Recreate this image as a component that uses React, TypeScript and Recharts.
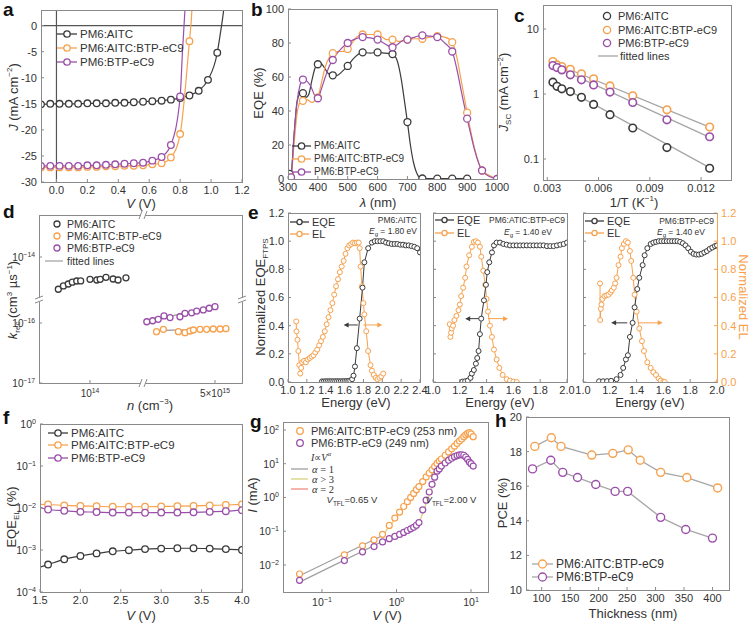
import React from 'react'
import { ComposedChart, Line, Scatter, XAxis, YAxis, ReferenceLine, ReferenceDot } from 'recharts'

const BLACK = '#3b3b3b'
const ORANGE = '#f7a14d'
const PURPLE = '#9a4fa9'
const FIT = '#a6a6a6'
const FRAME = '#8a8a8a'
const TXT = '#333'
const FONT = '"Liberation Sans", Arial, Helvetica, sans-serif'
const SERIF = '"Liberation Serif", "Times New Roman", serif'

// a: J-V
const jvV = [-0.1, -0.04, 0.02, 0.08, 0.14, 0.2, 0.26, 0.32, 0.38, 0.44, 0.5, 0.56, 0.62, 0.68, 0.74, 0.8, 0.86, 0.92, 0.98, 1.04]
const jAitc = [-15.1, -15.0, -15.0, -15.0, -15.0, -14.9, -14.9, -14.9, -14.8, -14.8, -14.7, -14.6, -14.5, -14.4, -14.2, -13.9, -13.4, -12.5, -10.4, -5.2]
const jTern = [-27.2, -27.2, -27.2, -27.2, -27.2, -27.1, -27.1, -27.0, -27.0, -26.9, -26.9, -26.8, -26.6, -26.4, -25.3, -20.8, -3.0]
const jBtp = [-26.9, -26.9, -26.9, -26.9, -26.9, -26.8, -26.8, -26.7, -26.6, -26.5, -26.4, -26.3, -25.9, -25.2, -22.9, -13.6]
const aitcTailV = [1.06, 1.075, 1.09]
const aitcTailJ = [-1.5, 1.5, 5]
const ternTailV = [0.872, 0.88]
const ternTailJ = [1, 5]
const btpTailV = [0.815, 0.835]
const btpTailJ = [-5, 5]

// b: EQE spectra
const bBlackWl = [305, 310, 320, 330, 340, 350, 360, 370, 380, 390, 400, 410, 420, 435, 450, 465, 480, 500, 520, 550, 575, 600, 625, 650, 665, 680, 690, 700, 710, 720, 730, 740, 750, 800, 850, 900]
const bBlackEqe = [0, 2, 25, 45, 50, 50.5, 48, 50, 58, 65, 67.5, 68, 66, 62, 61, 61, 63, 66.5, 71, 74.5, 74, 74.5, 74, 73.5, 70, 58, 46, 33.5, 20, 10, 4, 1, 0.3, 0.2, 0.2, 0.2]
const bBlackMkWl = [305, 350, 400, 450, 500, 550, 600, 650, 700, 750, 800, 850, 900]
const bBlackMk = [3, 50.5, 67.5, 61, 66.5, 74.5, 74.5, 73.5, 33.5, 0.3, 0.2, 0.2, 0.2]
const bTernWl = [305, 310, 320, 330, 340, 350, 365, 380, 390, 400, 410, 425, 440, 450, 465, 480, 500, 515, 530, 550, 575, 600, 615, 630, 650, 670, 690, 700, 725, 750, 775, 800, 825, 850, 865, 880, 900, 910, 925, 950, 975, 1000]
const bTernEqe = [0, 1, 20, 38, 45, 46, 46.5, 45, 46, 48, 55, 66, 72, 74, 75, 75, 76.5, 80, 83.5, 85, 85, 85, 83.5, 82, 82, 81, 81.5, 82, 82.5, 82.5, 83.5, 84, 83.5, 80.5, 72, 58, 39, 30, 18, 5, 2, 0]
const bMkWl = [310, 350, 400, 450, 500, 550, 600, 650, 700, 750, 800, 850, 900, 950, 1000]
const bTernMk = [1, 46, 48, 74, 76.5, 85, 85, 82, 82, 82.5, 84, 80.5, 39, 5, 0]
const bBtpWl = [305, 310, 320, 330, 340, 350, 360, 375, 390, 400, 410, 425, 440, 450, 465, 480, 500, 520, 550, 575, 600, 620, 640, 650, 665, 680, 700, 725, 750, 775, 800, 825, 850, 865, 880, 900, 910, 925, 950, 975, 1000]
const bBtpEqe = [0, 1, 25, 45, 55, 58.5, 58, 55, 49, 47.5, 52, 60, 67, 70, 74, 77, 80, 82, 83.5, 83, 82, 80, 78, 77.5, 79, 81, 82, 83.5, 84.5, 84, 83.5, 80, 75, 65, 52, 35.5, 28, 17, 5, 1.5, 0]
const bBtpMk = [1, 58.5, 47.5, 70, 80, 83.5, 82, 77.5, 82, 84.5, 83.5, 75, 35.5, 5, 0]

// c: Jsc vs 1/T
const cInvT = [0.00333, 0.00357, 0.00385, 0.00435, 0.005, 0.00571, 0.00667, 0.008, 0.01, 0.0125]
const cAitc = [1.52, 1.31, 1.2, 1.09, 0.89, 0.69, 0.48, 0.3, 0.15, 0.072]
const cTern = [3.15, 2.8, 2.65, 2.4, 2.05, 1.71, 1.33, 0.94, 0.57, 0.31]
const cBtp = [2.74, 2.55, 2.35, 1.97, 1.65, 1.38, 1.07, 0.74, 0.4, 0.22]
const cFitX = [0.0033, 0.0126]
const cFitAitc = [1.55, 0.071]
const cFitTern = [3.05, 0.3]
const cFitBtp = [2.75, 0.21]

// d: k_rec vs n (broken axes)
const dAitcN = [4.99e13, 5.58e13, 6.21e13, 6.78e13, 7.47e13, 8.15e13, 1.0e14, 1.16e14, 1.25e14, 1.42e14, 1.66e14, 1.85e14, 2.2e14]
const dAitcK = [2.9e-15, 3.29e-15, 3.55e-15, 3.8e-15, 3.98e-15, 4.0e-15, 4.25e-15, 4.14e-15, 4.25e-15, 4.59e-15, 4.3e-15, 4.14e-15, 4.5e-15]
const dBtpN = [2.28e15, 2.44e15, 2.6e15, 2.78e15, 2.98e15, 3.34e15, 3.54e15, 3.82e15, 4.05e15, 4.37e15, 4.68e15, 5.0e15]
const dBtpK = [1.05e-16, 1.09e-16, 1.15e-16, 1.31e-16, 1.23e-16, 1.27e-16, 1.45e-16, 1.48e-16, 1.58e-16, 1.65e-16, 1.76e-16, 1.87e-16]
const dTernN = [2.55e15, 2.76e15, 3.28e15, 3.54e15, 3.75e15, 3.9e15, 4.21e15, 4.54e15, 4.9e15, 5.3e15, 5.67e15]
const dTernK = [7.16e-17, 7.85e-17, 7.16e-17, 6.89e-17, 7.35e-17, 7.65e-17, 7.85e-17, 7.85e-17, 7.94e-17, 7.94e-17, 8.03e-17]
const dFitTernN = [2.6e15, 5.7e15]
const dFitTernK = [7.5e-17, 8.0e-17]
const dFitBtpN = [2.3e15, 5.0e15]
const dFitBtpK = [1.08e-16, 1.85e-16]

// e: normalized EQE_FTPS and EL
const e1EqeE = [1.36, 1.38, 1.4, 1.42, 1.44, 1.46, 1.48, 1.5, 1.52, 1.54, 1.56, 1.58, 1.6, 1.62, 1.64, 1.66, 1.68, 1.695, 1.71, 1.73, 1.76, 1.79, 1.81, 1.85, 1.89, 1.92, 1.95, 1.98, 2.01, 2.04, 2.07, 2.1, 2.13, 2.16, 2.19, 2.22, 2.25, 2.28, 2.31, 2.34, 2.37, 2.4]
const e1Eqe = [0.004, 0.004, 0.005, 0.005, 0.005, 0.005, 0.005, 0.005, 0.005, 0.005, 0.005, 0.005, 0.006, 0.006, 0.007, 0.01, 0.02, 0.045, 0.11, 0.24, 0.45, 0.67, 0.85, 0.95, 0.99, 1.0, 1.0, 1.0, 1.0, 0.99, 0.985, 0.98, 0.98, 0.98, 0.975, 0.975, 0.97, 0.97, 0.965, 0.96, 0.95, 0.92]
const e1ElE = [1.087, 1.09, 1.1, 1.11, 1.12, 1.13, 1.14, 1.15, 1.17, 1.19, 1.21, 1.23, 1.25, 1.27, 1.29, 1.31, 1.33, 1.35, 1.37, 1.39, 1.41, 1.43, 1.45, 1.47, 1.49, 1.51, 1.53, 1.55, 1.57, 1.59, 1.61, 1.63, 1.65, 1.67, 1.69, 1.71, 1.73, 1.75, 1.76, 1.77, 1.785, 1.8, 1.81, 1.83, 1.85, 1.875, 1.89, 1.91, 1.93, 1.95, 1.97, 1.99, 2.01]
const e1El = [0.43, 0.36, 0.3, 0.22, 0.12, 0.06, 0.1, 0.14, 0.15, 0.14, 0.16, 0.17, 0.18, 0.19, 0.21, 0.23, 0.26, 0.29, 0.32, 0.36, 0.41, 0.46, 0.51, 0.56, 0.62, 0.68, 0.73, 0.78, 0.82, 0.86, 0.91, 0.95, 0.97, 0.98, 0.99, 0.985, 0.99, 0.99, 0.95, 0.82, 0.68, 0.56, 0.48, 0.36, 0.22, 0.12, 0.08, 0.05, 0.03, 0.02, 0.03, 0.04, 0.06]
const e2EqeE = [1.22, 1.24, 1.26, 1.28, 1.29, 1.305, 1.32, 1.33, 1.34, 1.35, 1.36, 1.38, 1.395, 1.405, 1.42, 1.44, 1.455, 1.475, 1.5, 1.525, 1.55, 1.575, 1.6, 1.625, 1.65, 1.675, 1.7, 1.725, 1.75, 1.775, 1.8, 1.825, 1.85, 1.875, 1.9, 1.925, 1.95, 1.975, 2.0]
const e2Eqe = [0.003, 0.005, 0.01, 0.03, 0.06, 0.085, 0.13, 0.17, 0.22, 0.34, 0.45, 0.58, 0.69, 0.78, 0.85, 0.92, 0.97, 0.99, 0.99, 0.98, 0.975, 0.97, 0.97, 0.97, 0.97, 0.97, 0.97, 0.97, 0.97, 0.97, 0.97, 0.97, 0.965, 0.965, 0.965, 0.97, 0.975, 0.98, 0.99]
const e2ElE = [1.125, 1.13, 1.135, 1.14, 1.15, 1.16, 1.175, 1.19, 1.2, 1.21, 1.225, 1.24, 1.25, 1.27, 1.29, 1.305, 1.32, 1.335, 1.35, 1.36, 1.375, 1.39, 1.4, 1.41, 1.425, 1.44, 1.455, 1.475, 1.495, 1.52, 1.55, 1.575, 1.6, 1.625]
const e2El = [0.41, 0.32, 0.35, 0.38, 0.4, 0.44, 0.47, 0.51, 0.55, 0.61, 0.67, 0.74, 0.82, 0.9, 0.96, 0.995, 1.0, 0.99, 0.96, 0.89, 0.79, 0.69, 0.59, 0.5, 0.4, 0.32, 0.23, 0.16, 0.1, 0.05, 0.02, 0.01, 0.003, 0]
const e3EqeE = [1.12, 1.15, 1.18, 1.21, 1.25, 1.28, 1.3, 1.32, 1.335, 1.35, 1.37, 1.385, 1.405, 1.42, 1.445, 1.46, 1.48, 1.505, 1.525, 1.545, 1.565, 1.585, 1.605, 1.625, 1.645, 1.665, 1.685, 1.705, 1.725, 1.745, 1.765, 1.785, 1.805, 1.825, 1.845, 1.865, 1.885, 1.905, 1.925, 1.945, 1.965, 1.985, 2.0]
const e3Eqe = [0.005, 0.005, 0.006, 0.008, 0.02, 0.05, 0.1, 0.16, 0.19, 0.32, 0.42, 0.53, 0.66, 0.74, 0.83, 0.9, 0.95, 0.98, 0.99, 0.995, 1.0, 1.0, 1.0, 1.0, 1.0, 1.0, 1.0, 1.0, 0.995, 0.985, 0.97, 0.95, 0.925, 0.91, 0.905, 0.905, 0.91, 0.92, 0.93, 0.945, 0.955, 0.965, 0.97]
const e3ElE = [1.127, 1.128, 1.133, 1.138, 1.145, 1.16, 1.175, 1.19, 1.205, 1.215, 1.23, 1.24, 1.25, 1.265, 1.28, 1.29, 1.305, 1.32, 1.335, 1.35, 1.36, 1.375, 1.385, 1.4, 1.42, 1.44, 1.455, 1.48, 1.505, 1.525, 1.545, 1.565, 1.58, 1.6, 1.61]
const e3El = [0.7, 0.44, 0.52, 0.55, 0.59, 0.61, 0.615, 0.62, 0.635, 0.65, 0.67, 0.7, 0.74, 0.83, 0.89, 0.95, 0.98, 1.0, 0.99, 0.93, 0.86, 0.74, 0.62, 0.5, 0.38, 0.29, 0.22, 0.14, 0.1, 0.07, 0.05, 0.025, 0.01, 0.003, 0]
// arrows: [black from, black to, orange from, orange to, height]
const e1Arrow = [1.74, 1.59, 1.8, 2.0, 0.405]
const e2Arrow = [1.375, 1.24, 1.41, 1.56, 0.45]
const e3Arrow = [1.33, 1.21, 1.41, 1.595, 0.42]

// f: EQE_EL vs V
const fV = [1.5, 1.6, 1.8, 2.0, 2.2, 2.4, 2.6, 2.8, 3.0, 3.2, 3.4, 3.6, 3.8, 4.0]
const fAitc = [3.9e-4, 4.5e-4, 6.0e-4, 7.2e-4, 8.3e-4, 9.3e-4, 9.9e-4, 1.05e-3, 1.08e-3, 1.1e-3, 1.1e-3, 1.08e-3, 1.05e-3, 1.0e-3]
const fTern = [0.0122, 0.0121, 0.0115, 0.0112, 0.011, 0.0107, 0.0107, 0.0107, 0.0109, 0.011, 0.0112, 0.0115, 0.0118, 0.0122]
const fBtp = [0.0103, 0.0092, 0.0086, 0.0081, 0.008, 0.0078, 0.0078, 0.0077, 0.0078, 0.0078, 0.0079, 0.0081, 0.0084, 0.0089]

// g: SCLC I-V
const gV = [0.05, 0.2, 0.35, 0.5, 0.65, 0.8, 0.95, 1.1, 1.25, 1.4, 1.55, 1.7, 1.85, 2.0, 2.25, 2.5, 2.75, 3.0, 3.25, 3.5, 3.75, 4.0, 4.5, 5.0, 5.5, 6.0, 6.5, 7.0, 7.5, 8.0, 8.5, 9.0, 9.5, 10.0, 10.7]
const gTern = [0.0054, 0.02, 0.037, 0.055, 0.081, 0.148, 0.245, 0.37, 0.54, 0.75, 1.0, 1.32, 1.7, 2.1, 2.96, 4.05, 5.3, 6.6, 8.3, 10.2, 12, 13.8, 17.8, 22.4, 27.5, 33, 40, 47, 54, 63, 71, 79, 83, 76, 63]
const gBtp = [0.0035, 0.0135, 0.0245, 0.035, 0.048, 0.06, 0.07, 0.08, 0.092, 0.105, 0.118, 0.13, 0.15, 0.18, 0.43, 0.83, 1.45, 2.45, 4.0, 6.0, 7.0, 8.5, 10.5, 12.6, 14.5, 16.2, 17.4, 18.2, 18.4, 17.8, 15.8, 13.5, 11.2, 10, 8.5]
const gFit1TernV = [0.05, 0.65]
const gFit1Tern = [0.0048, 0.075]
const gFit3TernV = [0.65, 3.6]
const gFit3Tern = [0.075, 11]
const gFit2TernV = [3.6, 8.6]
const gFit2Tern = [11, 72]
const gFit1BtpV = [0.05, 2.0]
const gFit1Btp = [0.0031, 0.17]
const gFit3BtpV = [2.0, 3.7]
const gFit3Btp = [0.17, 6.8]
const gFit2BtpV = [3.7, 7.0]
const gFit2Btp = [6.8, 18]

// h: PCE vs thickness
const hTernT = [88, 117, 134, 188, 225, 252, 273, 309, 355, 409]
const hTern = [18.3, 18.8, 18.3, 17.8, 17.9, 18.1, 17.5, 16.8, 16.5, 15.9]
const hBtpT = [84, 116, 137, 163, 195, 229, 251, 309, 353, 400]
const hBtp = [17.0, 17.5, 16.8, 16.5, 16.1, 15.7, 15.7, 14.2, 13.5, 13.0]

const pts = (xs: number[], ys: number[]) => xs.map((x, i) => ({ x, y: ys[i] }))

type Frame = { x: number; y: number; w: number; h: number }
const FA: Frame = { x: 41, y: 10, w: 201, h: 172 }
const FB: Frame = { x: 288, y: 9, w: 209, h: 170 }
const FC: Frame = { x: 543, y: 5, w: 188, h: 175 }
const FD: Frame = { x: 39, y: 215, w: 203, h: 168 }
const FE1: Frame = { x: 288, y: 213, w: 132, h: 169 }
const FE2: Frame = { x: 433, y: 213, w: 134, h: 169 }
const FE3: Frame = { x: 583, y: 213, w: 134, h: 169 }
const FF: Frame = { x: 40, y: 424, w: 202, h: 168 }
const FG: Frame = { x: 283, y: 422, w: 205, h: 170 }
const FH: Frame = { x: 526, y: 417, w: 203, h: 173 }

const tickFont = { fontSize: 11, fill: TXT, fontFamily: FONT }
const xAx = { type: 'number' as const, dataKey: 'x', tickSize: -3, tickMargin: 7, axisLine: false, tickLine: { stroke: FRAME }, tick: tickFont, interval: 0 as const, allowDataOverflow: true }
const yAx = { type: 'number' as const, tickSize: -3, tickMargin: 7, axisLine: false, tickLine: { stroke: FRAME }, tick: tickFont, interval: 0 as const, allowDataOverflow: true }

function Plot({ f, l, b, r = 8, t = 6, rightAxis = false, children }: { f: Frame; l: number; b: number; r?: number; t?: number; rightAxis?: boolean; children: React.ReactNode }) {
  return (
    <div style={{ position: 'absolute', left: f.x - l, top: f.y - t }}>
      <ComposedChart width={l + f.w + r} height={t + f.h + b} margin={{ top: t, right: rightAxis ? 0 : r, bottom: 0, left: 0 }}>
        {children}
      </ComposedChart>
    </div>
  )
}

function Box({ f, right = FRAME }: { f: Frame; right?: string }) {
  return (
    <div style={{ position: 'absolute', left: f.x, top: f.y, width: f.w + 1, height: f.h + 1, boxSizing: 'border-box', border: `1px solid ${FRAME}`, borderRightColor: right, pointerEvents: 'none' }} />
  )
}

function Label({ x, y, children, rotate = 0, size = 13, color = TXT, align = 'center', family = FONT }: { x: number; y: number; children: React.ReactNode; rotate?: number; size?: number; color?: string; align?: 'center' | 'right' | 'left'; family?: string }) {
  const tx = align === 'center' ? '-50%' : align === 'right' ? '-100%' : '0'
  return (
    <div style={{ position: 'absolute', left: x, top: y, transform: `translate(${tx},-50%) rotate(${rotate}deg)`, whiteSpace: 'nowrap', fontSize: size, color, lineHeight: 1, fontFamily: family }}>
      {children}
    </div>
  )
}

function Key({ x, y, color, text, w = 20, r = 3.2, line = true, dot = true, lineColor, size = 11, gap = 3 }: { x: number; y: number; color: string; text: React.ReactNode; w?: number; r?: number; line?: boolean; dot?: boolean; lineColor?: string; size?: number; gap?: number }) {
  return (
    <div style={{ position: 'absolute', left: x, top: y - 6, height: 12, display: 'flex', alignItems: 'center', whiteSpace: 'nowrap', fontSize: size, color: TXT, lineHeight: '12px' }}>
      <svg width={w} height={12} style={{ display: 'block', overflow: 'visible' }}>
        {line && <line x1={0} y1={6} x2={w} y2={6} stroke={lineColor ?? color} strokeWidth={1.3} />}
        {dot && <circle cx={w / 2} cy={6} r={r} fill="#fff" stroke={color} strokeWidth={1.3} />}
      </svg>
      <span style={{ marginLeft: gap }}>{text}</span>
    </div>
  )
}

const ring = (color: string, r = 3.3, sw = 1.3) => (p: any) => <circle cx={p.cx} cy={p.cy} r={r} fill="#fff" stroke={color} strokeWidth={sw} />

const powTick = (fmt: (v: number) => [string, string], side: 'left' | 'bottom', size = 11) => (p: any) => {
  const [base, exp] = fmt(p.payload.value)
  const anchor = side === 'left' ? 'end' : 'middle'
  const dy = side === 'bottom' ? 10 : 4
  return (
    <text x={p.x} y={p.y + dy} textAnchor={anchor} fontSize={size} fill={TXT} fontFamily={FONT}>
      {base}
      <tspan fontSize={size * 0.68} dy={-size * 0.42}>{exp}</tspan>
    </text>
  )
}
const pow10 = (v: number): [string, string] => ['10', String(Math.round(Math.log10(v))).replace('-', '\u2212')]

const arrowHead = (color: string, dir: number) => (p: any) => (
  <path d={`M${p.cx},${p.cy} L${p.cx - dir * 5},${p.cy - 2.5} L${p.cx - dir * 5},${p.cy + 2.5} Z`} fill={color} />
)

function Arrows({ a, rightId }: { a: number[]; rightId?: string }) {
  const [b0, b1, o0, o1, h] = a
  return (
    <>
      <ReferenceLine segment={[{ x: b0, y: h }, { x: b1 + 0.02, y: h }]} stroke={BLACK} strokeWidth={1} />
      <ReferenceDot x={b1} y={h} r={0} shape={arrowHead(BLACK, -1)} />
      <ReferenceLine yAxisId={rightId ?? 0} segment={[{ x: o0, y: h }, { x: o1 - 0.02, y: h }]} stroke={ORANGE} strokeWidth={1} />
      <ReferenceDot yAxisId={rightId ?? 0} x={o1} y={h} r={0} shape={arrowHead(ORANGE, 1)} />
    </>
  )
}

const eTicks = [0, 0.2, 0.4, 0.6, 0.8, 1.0, 1.2]
const eLine = (color: string) => ({ stroke: color, strokeWidth: 1, dot: { r: 2.5, fill: '#fff', stroke: color, strokeWidth: 1 }, isAnimationActive: false, type: 'linear' as const })

function PanelLetter({ x, y, c }: { x: number; y: number; c: string }) {
  return <div style={{ position: 'absolute', left: x, top: y - 10, fontSize: 19, fontWeight: 'bold', lineHeight: '20px', color: '#111' }}>{c}</div>
}

export default function App() {
  return (
    <div style={{ position: 'absolute', left: 0, top: 0, width: 750, height: 626, background: '#fff', fontFamily: FONT, overflow: 'hidden', color: TXT }}>
      {/* a */}
      <Plot f={FA} l={41} b={20}>
        <XAxis {...xAx} height={20} domain={[-0.1, 1.2]} ticks={[0, 0.2, 0.4, 0.6, 0.8, 1.0, 1.2]} tickFormatter={(v: number) => v.toFixed(1)} />
        <YAxis {...yAx} width={41} domain={[-30, 3]} ticks={[-30, -25, -20, -15, -10, -5, 0]} />
        <ReferenceLine x={0} stroke="#555" strokeWidth={1.2} />
        <ReferenceLine y={0} stroke="#555" strokeWidth={1.2} />
        <Line data={pts([...jvV, ...aitcTailV], [...jAitc, ...aitcTailJ])} dataKey="y" stroke={BLACK} strokeWidth={1.2} dot={false} type="monotone" isAnimationActive={false} />
        <Line data={pts([...jvV.slice(0, jTern.length), ...ternTailV], [...jTern, ...ternTailJ])} dataKey="y" stroke={ORANGE} strokeWidth={1.2} dot={false} type="monotone" isAnimationActive={false} />
        <Line data={pts([...jvV.slice(0, jBtp.length), ...btpTailV], [...jBtp, ...btpTailJ])} dataKey="y" stroke={PURPLE} strokeWidth={1.2} dot={false} type="monotone" isAnimationActive={false} />
        <Scatter data={pts(jvV, jAitc)} dataKey="y" shape={ring(BLACK)} isAnimationActive={false} />
        <Scatter data={pts(jvV, jTern)} dataKey="y" shape={ring(ORANGE)} isAnimationActive={false} />
        <Scatter data={pts(jvV, jBtp)} dataKey="y" shape={ring(PURPLE)} isAnimationActive={false} />
      </Plot>
      <Box f={FA} />
      <Key x={57} y={34} color={BLACK} text="PM6:AITC" size={11.5} />
      <Key x={57} y={48} color={ORANGE} text="PM6:AITC:BTP-eC9" size={11.5} />
      <Key x={57} y={62} color={PURPLE} text="PM6:BTP-eC9" size={11.5} />
      <Label x={13} y={97} rotate={-90}><i>J</i> (mA cm<sup style={{ fontSize: 8 }}>−2</sup>)</Label>
      <Label x={141} y={203}><i>V</i> (V)</Label>

      {/* b */}
      <Plot f={FB} l={30} b={20} r={16}>
        <XAxis {...xAx} height={20} domain={[300, 1000]} ticks={[300, 400, 500, 600, 700, 800, 900, 1000]} />
        <YAxis {...yAx} width={30} domain={[0, 100]} ticks={[0, 20, 40, 60, 80, 100]} />
        <Line data={pts(bBlackWl, bBlackEqe)} dataKey="y" stroke={BLACK} strokeWidth={1.2} dot={false} type="monotone" isAnimationActive={false} />
        <Line data={pts(bTernWl, bTernEqe)} dataKey="y" stroke={ORANGE} strokeWidth={1.2} dot={false} type="monotone" isAnimationActive={false} />
        <Line data={pts(bBtpWl, bBtpEqe)} dataKey="y" stroke={PURPLE} strokeWidth={1.2} dot={false} type="monotone" isAnimationActive={false} />
        <Scatter data={pts(bBlackMkWl, bBlackMk)} dataKey="y" shape={ring(BLACK, 3.5)} isAnimationActive={false} />
        <Scatter data={pts(bMkWl, bTernMk)} dataKey="y" shape={ring(ORANGE, 3.5)} isAnimationActive={false} />
        <Scatter data={pts(bMkWl, bBtpMk)} dataKey="y" shape={ring(PURPLE, 3.5)} isAnimationActive={false} />
      </Plot>
      <Box f={FB} />
      <Key x={292} y={146} color={BLACK} text="PM6:AITC" w={19} size={10} />
      <Key x={292} y={159} color={ORANGE} text="PM6:AITC:BTP-eC9" w={19} size={10} />
      <Key x={292} y={172} color={PURPLE} text="PM6:BTP-eC9" w={19} size={10} />
      <Label x={258} y={93} rotate={-90}>EQE (%)</Label>
      <Label x={378} y={202}><i>λ</i> (nm)</Label>

      {/* c */}
      <Plot f={FC} l={30} b={20} r={12}>
        <XAxis {...xAx} height={20} domain={[0.00275, 0.01375]} ticks={[0.003, 0.006, 0.009, 0.012]} tickFormatter={(v: number) => v.toFixed(3)} />
        <YAxis {...yAx} width={30} scale="log" domain={[0.0475, 23.4]} ticks={[0.1, 1, 10]} tickFormatter={(v: number) => String(v)} />
        <Line data={pts(cFitX, cFitAitc)} dataKey="y" stroke={FIT} strokeWidth={1.3} dot={false} isAnimationActive={false} />
        <Line data={pts(cFitX, cFitTern)} dataKey="y" stroke={FIT} strokeWidth={1.3} dot={false} isAnimationActive={false} />
        <Line data={pts(cFitX, cFitBtp)} dataKey="y" stroke={FIT} strokeWidth={1.3} dot={false} isAnimationActive={false} />
        <Scatter data={pts(cInvT, cAitc)} dataKey="y" shape={ring(BLACK, 3.8, 1.6)} isAnimationActive={false} />
        <Scatter data={pts(cInvT, cTern)} dataKey="y" shape={ring(ORANGE, 3.8, 1.6)} isAnimationActive={false} />
        <Scatter data={pts(cInvT, cBtp)} dataKey="y" shape={ring(PURPLE, 3.8, 1.6)} isAnimationActive={false} />
      </Plot>
      <Box f={FC} />
      <Key x={601} y={16} color={BLACK} text="PM6:AITC" w={12} line={false} r={3.6} size={11} gap={5} />
      <Key x={601} y={30} color={ORANGE} text="PM6:AITC:BTP-eC9" w={12} line={false} r={3.6} size={11} gap={5} />
      <Key x={601} y={43} color={PURPLE} text="PM6:BTP-eC9" w={12} line={false} r={3.6} size={11} gap={5} />
      <Key x={598} y={56} color={FIT} text="fitted lines" w={20} dot={false} size={11} gap={2} />
      <Label x={505} y={92} rotate={-90}><i>J</i><sub style={{ fontSize: 8 }}>SC</sub> (mA cm<sup style={{ fontSize: 8 }}>−2</sup>)</Label>
      <Label x={634} y={202}>1/T (K<sup style={{ fontSize: 8 }}>−1</sup>)</Label>

      {/* d: two overlaid scales for the broken axes */}
      <Plot f={FD} l={39} b={20} r={10}>
        <XAxis {...xAx} height={20} scale="log" domain={[Math.pow(10, 13.514), Math.pow(10, 15.448)]} ticks={[1e14]} tick={powTick(pow10, 'bottom', 10)} />
        <YAxis {...yAx} width={39} scale="log" domain={[Math.pow(10, -16.1), Math.pow(10, -13.3)]} ticks={[1e-14]} tick={powTick(pow10, 'left', 10)} />
        <Scatter data={pts(dAitcN, dAitcK)} dataKey="y" shape={ring(BLACK, 3)} isAnimationActive={false} />
      </Plot>
      <Plot f={FD} l={39} b={20} r={10}>
        <XAxis {...xAx} height={20} scale="log" domain={[Math.pow(10, 14.819), Math.pow(10, 15.834)]} ticks={[5e15]} tick={powTick(() => ['5×10', '15'], 'bottom', 10)} />
        <YAxis {...yAx} width={39} scale="log" domain={[1e-17, Math.pow(10, -14.2)]} ticks={[1e-17, 1e-16]} tick={powTick(pow10, 'left', 10)} />
        <Line data={pts(dFitBtpN, dFitBtpK)} dataKey="y" stroke={FIT} strokeWidth={1.3} dot={false} isAnimationActive={false} />
        <Line data={pts(dFitTernN, dFitTernK)} dataKey="y" stroke={FIT} strokeWidth={1.3} dot={false} isAnimationActive={false} />
        <Scatter data={pts(dBtpN, dBtpK)} dataKey="y" shape={ring(PURPLE, 3)} isAnimationActive={false} />
        <Scatter data={pts(dTernN, dTernK)} dataKey="y" shape={ring(ORANGE, 3)} isAnimationActive={false} />
      </Plot>
      <Box f={FD} />
      <svg width={750} height={626} style={{ position: 'absolute', left: 0, top: 0, pointerEvents: 'none' }}>
        {[[143, 215], [143, 383]].map(([cx, cy], i) => (
          <g key={'h' + i} stroke={FRAME} strokeWidth={1}>
            <rect x={cx - 2} y={cy - 2} width={4} height={4} fill="#fff" stroke="none" />
            <line x1={cx - 4} y1={cy + 4} x2={cx - 1} y2={cy - 4} />
            <line x1={cx + 1} y1={cy + 4} x2={cx + 4} y2={cy - 4} />
          </g>
        ))}
        {[[39, 300], [242, 300]].map(([cx, cy], i) => (
          <g key={'v' + i} stroke={FRAME} strokeWidth={1}>
            <rect x={cx - 2} y={cy - 2} width={4} height={4} fill="#fff" stroke="none" />
            <line x1={cx - 4} y1={cy - 1} x2={cx + 4} y2={cy - 4} />
            <line x1={cx - 4} y1={cy + 3} x2={cx + 4} y2={cy} />
          </g>
        ))}
      </svg>
      <Key x={51} y={224} color={BLACK} text="PM6:AITC" w={12} line={false} r={3} size={10.5} gap={4} />
      <Key x={51} y={236} color={ORANGE} text="PM6:AITC:BTP-eC9" w={12} line={false} r={3} size={10.5} gap={4} />
      <Key x={51} y={248} color={PURPLE} text="PM6:BTP-eC9" w={12} line={false} r={3} size={10.5} gap={4} />
      <Key x={45} y={261} color={FIT} text="fitted lines" w={18} dot={false} size={10.5} gap={4} />
      <Label x={14} y={300} rotate={-90}><i>k</i><sub style={{ fontSize: 8 }}>rec</sub> (cm<sup style={{ fontSize: 8 }}>3</sup> µs<sup style={{ fontSize: 8 }}>−1</sup>)</Label>
      <Label x={150} y={405}><i>n</i> (cm<sup style={{ fontSize: 8 }}>−3</sup>)</Label>

      {/* e1 */}
      <Plot f={FE1} l={26} b={20} r={10}>
        <XAxis {...xAx} height={20} domain={[1.0, 2.4]} ticks={[1.0, 1.2, 1.4, 1.6, 1.8, 2.0, 2.2, 2.4]} tickFormatter={(v: number) => v.toFixed(1)} />
        <YAxis {...yAx} width={26} domain={[0, 1.2]} ticks={eTicks} tickFormatter={(v: number) => v.toFixed(1)} />
        <Arrows a={e1Arrow} />
        <Line data={pts(e1ElE, e1El)} dataKey="y" {...eLine(ORANGE)} />
        <Line data={pts(e1EqeE, e1Eqe)} dataKey="y" {...eLine(BLACK)} />
      </Plot>
      <Box f={FE1} />
      {/* e2 */}
      <Plot f={FE2} l={12} b={20} r={10}>
        <XAxis {...xAx} height={20} domain={[1.0, 2.0]} ticks={[1.0, 1.2, 1.4, 1.6, 1.8, 2.0]} tickFormatter={(v: number) => v.toFixed(1)} />
        <YAxis {...yAx} width={12} domain={[0, 1.2]} ticks={eTicks} tickFormatter={() => ''} />
        <Arrows a={e2Arrow} />
        <Line data={pts(e2ElE, e2El)} dataKey="y" {...eLine(ORANGE)} />
        <Line data={pts(e2EqeE, e2Eqe)} dataKey="y" {...eLine(BLACK)} />
      </Plot>
      <Box f={FE2} />
      {/* e3 */}
      <Plot f={FE3} l={12} b={20} r={28} rightAxis>
        <XAxis {...xAx} height={20} domain={[1.0, 2.0]} ticks={[1.0, 1.2, 1.4, 1.6, 1.8, 2.0]} tickFormatter={(v: number) => v.toFixed(1)} />
        <YAxis {...yAx} width={12} domain={[0, 1.2]} ticks={eTicks} tickFormatter={() => ''} />
        <YAxis {...yAx} yAxisId="r" orientation="right" width={28} domain={[0, 1.2]} ticks={eTicks} tickFormatter={(v: number) => v.toFixed(1)} tick={{ ...tickFont, fill: ORANGE }} tickLine={{ stroke: ORANGE }} />
        <Arrows a={e3Arrow} rightId="r" />
        <Line yAxisId="r" data={pts(e3ElE, e3El)} dataKey="y" {...eLine(ORANGE)} />
        <Line data={pts(e3EqeE, e3Eqe)} dataKey="y" {...eLine(BLACK)} />
      </Plot>
      <Box f={FE3} right={ORANGE} />
      <Key x={290} y={222} color={BLACK} text="EQE" w={19} r={2.6} size={11} />
      <Key x={290} y={234} color={ORANGE} text="EL" w={19} r={2.6} size={11} />
      <Key x={435} y={220} color={BLACK} text="EQE" w={19} r={2.6} size={11} />
      <Key x={435} y={233} color={ORANGE} text="EL" w={19} r={2.6} size={11} />
      <Key x={585} y={221} color={BLACK} text="EQE" w={19} r={2.6} size={11} />
      <Key x={585} y={233} color={ORANGE} text="EL" w={19} r={2.6} size={11} />
      <Label x={417} y={220} align="right" size={8.5}>PM6:AITC</Label>
      <Label x={417} y={232} align="right" size={8.5}><i>E</i><sub style={{ fontSize: 6 }}>g</sub> = 1.80 eV</Label>
      <Label x={565} y={220} align="right" size={8.5}>PM6:ATIC:BTP-eC9</Label>
      <Label x={552} y={233} align="right" size={8.5}><i>E</i><sub style={{ fontSize: 6 }}>g</sub> = 1.40 eV</Label>
      <Label x={714} y={221} align="right" size={8.5}>PM6:BTP-eC9</Label>
      <Label x={705} y={233} align="right" size={8.5}><i>E</i><sub style={{ fontSize: 6 }}>g</sub> = 1.40 eV</Label>
      <Label x={262} y={297} rotate={-90}>Normalized EQE<sub style={{ fontSize: 8 }}>FTPS</sub></Label>
      <Label x={743} y={297} rotate={90} color={ORANGE}>Normalized EL</Label>
      <Label x={356} y={402}>Energy (eV)</Label>
      <Label x={500} y={402}>Energy (eV)</Label>
      <Label x={650} y={402}>Energy (eV)</Label>

      {/* f */}
      <Plot f={FF} l={40} b={20}>
        <XAxis {...xAx} height={20} domain={[1.5, 4.0]} ticks={[1.5, 2.0, 2.5, 3.0, 3.5, 4.0]} tickFormatter={(v: number) => v.toFixed(1)} />
        <YAxis {...yAx} width={40} scale="log" domain={[1e-4, 1]} ticks={[1e-4, 1e-3, 1e-2, 1e-1, 1]} tick={powTick(pow10, 'left', 10.5)} />
        <Line data={pts(fV, fAitc)} dataKey="y" stroke={BLACK} strokeWidth={1.2} dot={false} type="monotone" isAnimationActive={false} />
        <Line data={pts(fV, fTern)} dataKey="y" stroke={ORANGE} strokeWidth={1.2} dot={false} type="monotone" isAnimationActive={false} />
        <Line data={pts(fV, fBtp)} dataKey="y" stroke={PURPLE} strokeWidth={1.2} dot={false} type="monotone" isAnimationActive={false} />
        <Scatter data={pts(fV.slice(1), fAitc.slice(1))} dataKey="y" shape={ring(BLACK, 3.3)} isAnimationActive={false} />
        <Scatter data={pts(fV.slice(1), fTern.slice(1))} dataKey="y" shape={ring(ORANGE, 3.3)} isAnimationActive={false} />
        <Scatter data={pts(fV.slice(1), fBtp.slice(1))} dataKey="y" shape={ring(PURPLE, 3.3)} isAnimationActive={false} />
      </Plot>
      <Box f={FF} />
      <Key x={48} y={433} color={BLACK} text="PM6:AITC" size={11.5} />
      <Key x={48} y={445} color={ORANGE} text="PM6:AITC:BTP-eC9" size={11.5} />
      <Key x={48} y={458} color={PURPLE} text="PM6:BTP-eC9" size={11.5} />
      <Label x={13} y={517} rotate={-90}>EQE<sub style={{ fontSize: 8 }}>EL</sub> (%)</Label>
      <Label x={141} y={615}><i>V</i> (V)</Label>

      {/* g */}
      <Plot f={FG} l={34} b={20}>
        <XAxis {...xAx} height={20} scale="log" domain={[0.03, 16.9]} ticks={[0.1, 1, 10]} tick={powTick(pow10, 'bottom', 10.5)} />
        <YAxis {...yAx} width={34} scale="log" domain={[0.00158, 172]} ticks={[0.01, 0.1, 1, 10, 100]} tick={powTick(pow10, 'left', 10.5)} />
        <Scatter data={pts(gV, gTern)} dataKey="y" shape={ring(ORANGE, 3, 1.2)} isAnimationActive={false} />
        <Scatter data={pts(gV, gBtp)} dataKey="y" shape={ring(PURPLE, 3, 1.2)} isAnimationActive={false} />
        <Line data={pts(gFit1TernV, gFit1Tern)} dataKey="y" stroke="#9e9e9e" strokeWidth={1.2} dot={false} isAnimationActive={false} />
        <Line data={pts(gFit3TernV, gFit3Tern)} dataKey="y" stroke="#d8cf7e" strokeWidth={1.2} dot={false} isAnimationActive={false} />
        <Line data={pts(gFit2TernV, gFit2Tern)} dataKey="y" stroke="#f28b82" strokeWidth={1.2} dot={false} isAnimationActive={false} />
        <Line data={pts(gFit1BtpV, gFit1Btp)} dataKey="y" stroke="#9e9e9e" strokeWidth={1.2} dot={false} isAnimationActive={false} />
        <Line data={pts(gFit3BtpV, gFit3Btp)} dataKey="y" stroke="#d8cf7e" strokeWidth={1.2} dot={false} isAnimationActive={false} />
        <Line data={pts(gFit2BtpV, gFit2Btp)} dataKey="y" stroke="#f28b82" strokeWidth={1.2} dot={false} isAnimationActive={false} />
      </Plot>
      <Box f={FG} />
      <Key x={294} y={431} color={ORANGE} text="PM6:AITC:BTP-eC9 (253 nm)" w={12} line={false} r={3.3} size={11} gap={5} />
      <Key x={294} y={443} color={PURPLE} text="PM6:BTP-eC9 (249 nm)" w={12} line={false} r={3.3} size={11} gap={5} />
      <Label x={311} y={457} align="left" size={10} family={SERIF}><i>I</i>∝<i>V</i><sup style={{ fontSize: 7 }}><i>α</i></sup></Label>
      <Key x={291} y={469} color="#9e9e9e" text={<span style={{ fontFamily: SERIF }}><i>α</i> = 1</span>} w={17} dot={false} size={10.5} gap={4} />
      <Key x={291} y={479} color="#d8cf7e" text={<span style={{ fontFamily: SERIF }}><i>α</i> &gt; 3</span>} w={17} dot={false} size={10.5} gap={4} />
      <Key x={291} y={489} color="#f28b82" text={<span style={{ fontFamily: SERIF }}><i>α</i> = 2</span>} w={17} dot={false} size={10.5} gap={4} />
      <Label x={352} y={501} size={9.5}><i>V</i><sub style={{ fontSize: 6.5 }}>TFL</sub>=0.65 V</Label>
      <Label x={451} y={501} size={9.5}><i>V</i><sub style={{ fontSize: 6.5 }}>TFL</sub>=2.00 V</Label>
      <Label x={252} y={495} rotate={-90}><i>I</i> (mA)</Label>
      <Label x={387} y={615}><i>V</i> (V)</Label>

      {/* h */}
      <Plot f={FH} l={26} b={20} r={10}>
        <XAxis {...xAx} height={20} domain={[72.5, 429]} ticks={[100, 150, 200, 250, 300, 350, 400]} />
        <YAxis {...yAx} width={26} domain={[10, 20]} ticks={[10, 12, 14, 16, 18, 20]} />
        <Line data={pts(hTernT, hTern)} dataKey="y" stroke={FIT} strokeWidth={1.3} dot={{ r: 4, fill: '#fff', stroke: ORANGE, strokeWidth: 1.4 }} isAnimationActive={false} />
        <Line data={pts(hBtpT, hBtp)} dataKey="y" stroke={FIT} strokeWidth={1.3} dot={{ r: 4, fill: '#fff', stroke: PURPLE, strokeWidth: 1.4 }} isAnimationActive={false} />
      </Plot>
      <Box f={FH} />
      <Key x={532} y={564} color={ORANGE} lineColor={FIT} text="PM6:AITC:BTP-eC9" w={21} r={4} size={12} />
      <Key x={532} y={577} color={PURPLE} lineColor={FIT} text="PM6:BTP-eC9" w={21} r={4} size={12} />
      <Label x={502} y={503} rotate={-90}>PCE (%)</Label>
      <Label x={633} y={613}>Thickness (nm)</Label>

      <PanelLetter x={3} y={10} c="a" />
      <PanelLetter x={251} y={10} c="b" />
      <PanelLetter x={514} y={16} c="c" />
      <PanelLetter x={3} y={212} c="d" />
      <PanelLetter x={248} y={213} c="e" />
      <PanelLetter x={3} y={418} c="f" />
      <PanelLetter x={250} y={422} c="g" />
      <PanelLetter x={495} y={421} c="h" />
    </div>
  )
}
